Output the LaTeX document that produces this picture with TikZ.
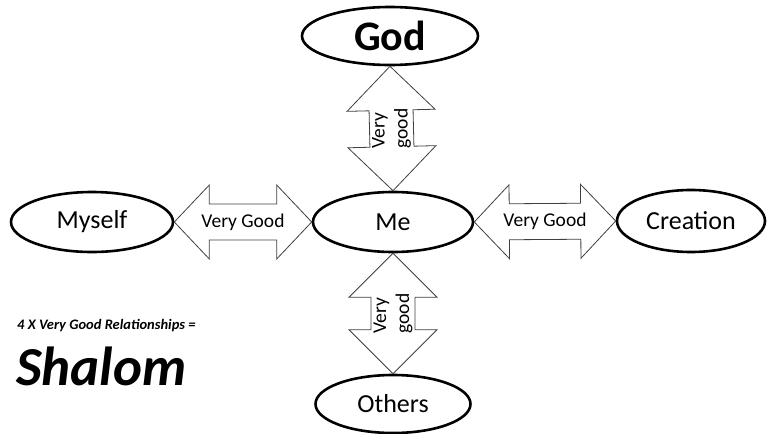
\documentclass[tikz,border=0pt]{standalone}
\usepackage{fontspec}
\setmainfont{Carlito}
\usetikzlibrary{calc,shapes.geometric}
\tikzset{
  oval/.style={ellipse, draw=black, line width=2.6pt, fill=white, inner sep=0pt, font=\fontsize{26}{30}\selectfont},
  blockline/.style={draw=black!75, line width=0.8pt, fill=white, line join=miter},
  arrowtext/.style={font=\fontsize{19.5}{23}\selectfont, inner sep=0pt},
  vtext/.style={arrowtext, rotate=90, align=left},
}
\newcommand\blockarrow[5]{%
  \path[blockline] (#1)
    -- ($(#1)!#3!(#2)!#4!90:(#2)$)
    -- ($(#1)!#3!(#2)!#5!90:(#2)$)
    -- ($(#2)!#3!(#1)!#5!-90:(#1)$)
    -- ($(#2)!#3!(#1)!#4!-90:(#1)$)
    -- (#2)
    -- ($(#2)!#3!(#1)!#4!90:(#1)$)
    -- ($(#2)!#3!(#1)!#5!90:(#1)$)
    -- ($(#1)!#3!(#2)!#5!-90:(#2)$)
    -- ($(#1)!#3!(#2)!#4!-90:(#2)$)
    -- cycle;}
\begin{document}
\begin{tikzpicture}[x=1pt,y=-1pt]
\useasboundingbox (0,0) rectangle (769,434);
% ellipses
\node[oval, minimum width=176pt, minimum height=58pt, font=\fontsize{42}{46}\selectfont\bfseries] (god) at (390,36) {God};
\node[oval, minimum width=160pt, minimum height=60pt] (me) at (393,222) {Me};
\node[oval, minimum width=162pt, minimum height=60pt] (myself) at (92,222) {Myself};
\node[oval, minimum width=148pt, minimum height=62pt] (creation) at (691,221) {Creation};
\node[oval, minimum width=155pt, minimum height=58pt] (others) at (393,404) {Others};
% block arrows
\blockarrow{god.south}{me.north}{44pt}{44pt}{22pt}
\blockarrow{me.south}{others.north}{44pt}{44pt}{22pt}
\blockarrow{myself.east}{me.west}{35pt}{37pt}{18pt}
\blockarrow{me.east}{creation.west}{35pt}{37pt}{18pt}
% labels
\node[arrowtext] (l1) at ($(myself.east)!0.5!(me.west)$) {Very Good};
\node[arrowtext] (l2) at ($(me.east)!0.5!(creation.west)$) {Very Good};
\node[vtext] (l3) at ($(god.south)!0.5!(me.north)$) {Very\\good};
\node[vtext] (l4) at ($(me.south)!0.5!(others.north)$) {Very\\good};
% side text
\node[anchor=base west, inner sep=0pt, font=\fontsize{14.5}{17}\selectfont\bfseries\itshape] (rel) at (17,329) {4 X Very Good Relationships =};
\node[anchor=base west, inner sep=0pt, font=\fontsize{55}{60}\selectfont\bfseries\itshape] (shalom) at (16,385) {Shalom};
\end{tikzpicture}
\end{document}
